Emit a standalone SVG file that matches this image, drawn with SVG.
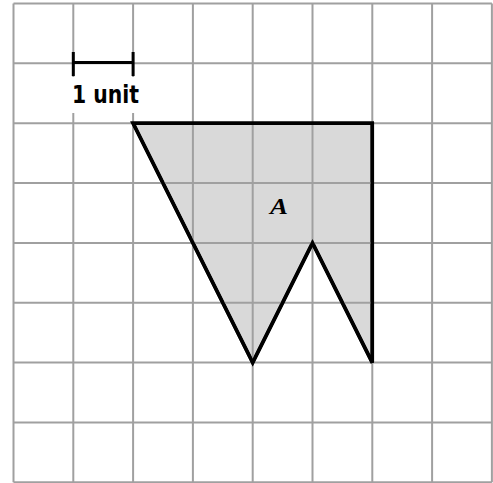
<svg xmlns="http://www.w3.org/2000/svg" width="493" height="483" viewBox="0 0 493 483">
<style>
.grid line{stroke:#a0a0a0;stroke-width:2}
.shape{fill:#d9d9d9;stroke:#000;stroke-width:3.5;stroke-linejoin:miter}
.bar{stroke:#000;stroke-width:3;fill:none}
.lbl{font-family:"DejaVu Sans",sans-serif;font-weight:bold;font-size:24px;fill:#000}
.a{font-family:"Liberation Serif",serif;font-weight:bold;font-style:italic;font-size:23px;fill:#000}
.in{stroke:#a0a0a0;stroke-width:2}
</style>
<rect x="0" y="0" width="493" height="483" fill="#fff"/>
<g id="grid" class="grid">
<line x1="13.5" y1="3.5" x2="13.5" y2="482.3"/>
<line x1="73.3" y1="3.5" x2="73.3" y2="482.3"/>
<line x1="133.1" y1="3.5" x2="133.1" y2="482.3"/>
<line x1="192.9" y1="3.5" x2="192.9" y2="482.3"/>
<line x1="252.7" y1="3.5" x2="252.7" y2="482.3"/>
<line x1="312.5" y1="3.5" x2="312.5" y2="482.3"/>
<line x1="372.3" y1="3.5" x2="372.3" y2="482.3"/>
<line x1="432.1" y1="3.5" x2="432.1" y2="482.3"/>
<line x1="491.9" y1="3.5" x2="491.9" y2="482.3"/>
<line x1="13.5" y1="3.5" x2="491.9" y2="3.5"/>
<line x1="13.5" y1="63.35" x2="491.9" y2="63.35"/>
<line x1="13.5" y1="123.2" x2="491.9" y2="123.2"/>
<line x1="13.5" y1="183.05" x2="491.9" y2="183.05"/>
<line x1="13.5" y1="242.9" x2="491.9" y2="242.9"/>
<line x1="13.5" y1="302.75" x2="491.9" y2="302.75"/>
<line x1="13.5" y1="362.6" x2="491.9" y2="362.6"/>
<line x1="13.5" y1="422.45" x2="491.9" y2="422.45"/>
<line x1="13.5" y1="482.3" x2="491.9" y2="482.3"/>
</g>
<g id="scale">
<rect x="66" y="77" width="80" height="36" fill="#fff"/>
<line class="bar" x1="73.3" y1="62.5" x2="133.1" y2="62.5"/>
<line class="bar" x1="73.3" y1="52" x2="73.3" y2="76"/>
<line class="bar" x1="133.1" y1="52" x2="133.1" y2="76"/>
<text class="lbl" x="105.5" y="103.3" text-anchor="middle" textLength="67" lengthAdjust="spacingAndGlyphs">1 unit</text>
</g>
<g id="shapeA">
<polygon class="shape" points="133.1,123.2 372.3,123.2 372.3,362.6 312.5,242.9 252.7,362.6"/>
<line class="in" x1="192.9" y1="123.2" x2="192.9" y2="242.9"/>
<line class="in" x1="252.7" y1="123.2" x2="252.7" y2="361"/>
<line class="in" x1="312.5" y1="123.2" x2="312.5" y2="242.9"/>
<line class="in" x1="133.1" y1="183.05" x2="372.3" y2="183.05"/>
<line class="in" x1="192.9" y1="242.9" x2="372.3" y2="242.9"/>
<line class="in" x1="222.8" y1="302.75" x2="282.6" y2="302.75"/>
<line class="in" x1="342.4" y1="302.75" x2="372.3" y2="302.75"/>
<polygon points="133.1,123.2 372.3,123.2 372.3,362.6 312.5,242.9 252.7,362.6" fill="none" stroke="#000" stroke-width="3.5"/>
<text class="a" x="279" y="213.5" text-anchor="middle" textLength="18" lengthAdjust="spacingAndGlyphs">A</text>
</g>
</svg>
